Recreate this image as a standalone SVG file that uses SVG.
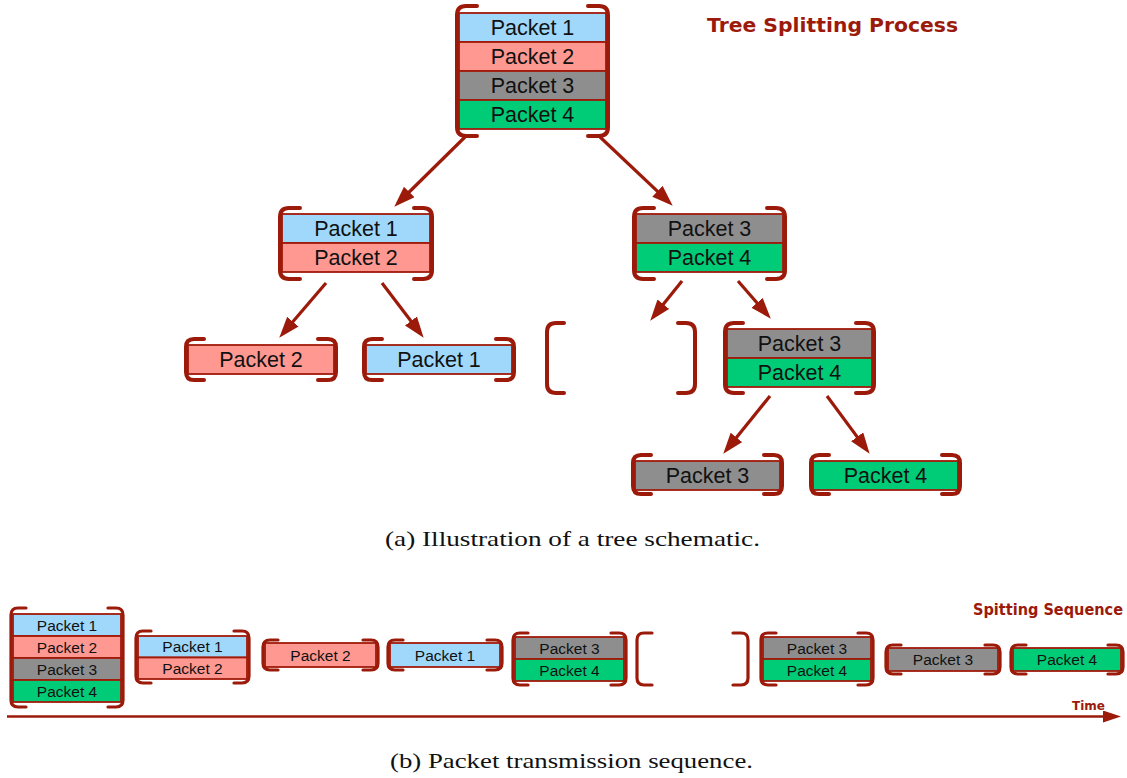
<svg xmlns="http://www.w3.org/2000/svg" width="1127" height="778" viewBox="0 0 1127 778">
  <style>
    .blue { fill: #9fd8fb; }
    .pink { fill: #ff9891; }
    .gray { fill: #8e8e8e; }
    .green { fill: #00cc78; }
    .cell { stroke: #a01a0a; stroke-width: 1.8; }
    .brk { fill: none; stroke: #9c1a0a; stroke-width: 4; stroke-linecap: round; stroke-linejoin: round; }
    .brk-s { fill: none; stroke: #9c1a0a; stroke-width: 3.2; stroke-linecap: round; stroke-linejoin: round; }
    .lbl { font-family: "Liberation Sans", Arial, sans-serif; font-size: 21.5px; fill: #111; text-anchor: middle; }
    .lbl-s { font-family: "Liberation Sans", Arial, sans-serif; font-size: 15.5px; fill: #111; text-anchor: middle; }
    .edge { stroke: #9c1a0a; stroke-width: 3.2; fill: none; marker-end: url(#head); }
    .hand { font-family: "DejaVu Sans", sans-serif; font-weight: bold; fill: #9c1a0a; }
    .cap { font-family: "Liberation Serif", "DejaVu Serif", serif; font-size: 21px; fill: #111; }
  </style>
  <defs>
    <marker id="head" markerUnits="userSpaceOnUse" markerWidth="22" markerHeight="16" refX="10" refY="7.5" orient="auto">
      <path d="M0,0 L21,7.5 L0,15 Z" fill="#9c1a0a"/>
    </marker>
    <marker id="timehead" markerUnits="userSpaceOnUse" markerWidth="20" markerHeight="14" refX="6" refY="6" orient="auto">
      <path d="M0,0 L18,6 L0,12 Z" fill="#9c1a0a"/>
    </marker>
  </defs>

  <rect width="1127" height="778" fill="#ffffff"/>

  <!-- (a) tree -->
  <text class="hand" x="707" y="32" font-size="20" textLength="251" lengthAdjust="spacingAndGlyphs">Tree Splitting Process</text>

  <g id="root">
    <rect class="blue cell" x="459" y="13" width="147" height="29"/>
    <rect class="pink cell" x="459" y="42" width="147" height="29"/>
    <rect class="gray cell" x="459" y="71" width="147" height="29"/>
    <rect class="green cell" x="459" y="100" width="147" height="29"/>
    <text class="lbl" x="532.5" y="35">Packet 1</text>
    <text class="lbl" x="532.5" y="64">Packet 2</text>
    <text class="lbl" x="532.5" y="93">Packet 3</text>
    <text class="lbl" x="532.5" y="122">Packet 4</text>
    <path class="brk" d="M477,6 H466 Q457,6 457,15 V127 Q457,136 466,136 H477 M588,6 H599 Q608,6 608,15 V127 Q608,136 599,136 H588"/>
  </g>

  <g id="n12">
    <rect class="blue cell" x="282" y="214" width="148" height="29"/>
    <rect class="pink cell" x="282" y="243" width="148" height="29"/>
    <text class="lbl" x="356" y="236">Packet 1</text>
    <text class="lbl" x="356" y="265">Packet 2</text>
    <path class="brk" d="M300,208 H289 Q280,208 280,217 V270 Q280,279 289,279 H300 M414,208 H423 Q432,208 432,217 V270 Q432,279 423,279 H414"/>
  </g>

  <g id="n34">
    <rect class="gray cell" x="636" y="214" width="147" height="29"/>
    <rect class="green cell" x="636" y="243" width="147" height="29"/>
    <text class="lbl" x="709.5" y="236">Packet 3</text>
    <text class="lbl" x="709.5" y="265">Packet 4</text>
    <path class="brk" d="M654,208 H643 Q634,208 634,217 V270 Q634,279 643,279 H654 M767,208 H776 Q785,208 785,217 V270 Q785,279 776,279 H767"/>
  </g>

  <g id="n2">
    <rect class="pink cell" x="188" y="345" width="146" height="29"/>
    <text class="lbl" x="261" y="367">Packet 2</text>
    <path class="brk" d="M204,339 H194 Q186,339 186,347 V372 Q186,380 194,380 H204 M318,339 H328 Q336,339 336,347 V372 Q336,380 328,380 H318"/>
  </g>

  <g id="n1">
    <rect class="blue cell" x="366" y="345" width="146" height="29"/>
    <text class="lbl" x="439" y="367">Packet 1</text>
    <path class="brk" d="M382,339 H372 Q364,339 364,347 V372 Q364,380 372,380 H382 M496,339 H506 Q514,339 514,347 V372 Q514,380 506,380 H496"/>
  </g>

  <g id="empty">
    <path class="brk" d="M564,323 H556 Q547,323 547,332 V384 Q547,393 556,393 H564 M678,323 H686 Q695,323 695,332 V384 Q695,393 686,393 H678"/>
  </g>

  <g id="n34b">
    <rect class="gray cell" x="727" y="329" width="145" height="29"/>
    <rect class="green cell" x="727" y="358" width="145" height="29"/>
    <text class="lbl" x="799.5" y="351">Packet 3</text>
    <text class="lbl" x="799.5" y="380">Packet 4</text>
    <path class="brk" d="M743,323 H734 Q725,323 725,332 V384 Q725,393 734,393 H743 M856,323 H865 Q874,323 874,332 V384 Q874,393 865,393 H856"/>
  </g>

  <g id="n3">
    <rect class="gray cell" x="635" y="461" width="145" height="29"/>
    <text class="lbl" x="707.5" y="483">Packet 3</text>
    <path class="brk" d="M651,455 H641 Q633,455 633,463 V486 Q633,494 641,494 H651 M764,455 H774 Q782,455 782,463 V486 Q782,494 774,494 H764"/>
  </g>

  <g id="n4">
    <rect class="green cell" x="813" y="461" width="145" height="29"/>
    <text class="lbl" x="885.5" y="483">Packet 4</text>
    <path class="brk" d="M829,455 H819 Q811,455 811,463 V486 Q811,494 819,494 H829 M942,455 H952 Q960,455 960,463 V486 Q960,494 952,494 H942"/>
  </g>

  <g id="connectors">
    <line class="edge" x1="465" y1="137" x2="402.1" y2="199.0"/>
    <line class="edge" x1="600" y1="137" x2="664.7" y2="198.1"/>
    <line class="edge" x1="326" y1="283" x2="286.4" y2="329.3"/>
    <line class="edge" x1="382" y1="283" x2="417.0" y2="329.0"/>
    <line class="edge" x1="682" y1="281" x2="657.1" y2="312.1"/>
    <line class="edge" x1="738" y1="281" x2="763.6" y2="310.4"/>
    <line class="edge" x1="770" y1="396" x2="730.2" y2="445.2"/>
    <line class="edge" x1="827" y1="396" x2="863.1" y2="444.9"/>
    <line x1="7" y1="716.5" x2="1109" y2="716.5" stroke="#9c1a0a" stroke-width="2.6" marker-end="url(#timehead)"/>
  </g>

  <text class="cap" x="385" y="546" textLength="375" lengthAdjust="spacingAndGlyphs">(a) Illustration of a tree schematic.</text>

  <!-- (b) transmission sequence -->
  <text class="hand" x="973" y="615" font-size="15" textLength="150" lengthAdjust="spacingAndGlyphs">Spitting Sequence</text>
  <text class="hand" x="1072" y="710" font-size="13" textLength="33" lengthAdjust="spacingAndGlyphs">Time</text>

  <g id="s1">
    <rect class="blue cell" x="13" y="614" width="108" height="22"/>
    <rect class="pink cell" x="13" y="636" width="108" height="22"/>
    <rect class="gray cell" x="13" y="658" width="108" height="22"/>
    <rect class="green cell" x="13" y="680" width="108" height="22"/>
    <text class="lbl-s" x="67" y="630.5">Packet 1</text>
    <text class="lbl-s" x="67" y="652.5">Packet 2</text>
    <text class="lbl-s" x="67" y="674.5">Packet 3</text>
    <text class="lbl-s" x="67" y="696.5">Packet 4</text>
    <path class="brk-s" d="M26,608 H18 Q11,608 11,615 V700 Q11,707 18,707 H26 M108,608 H116 Q123,608 123,615 V700 Q123,707 116,707 H108"/>
  </g>

  <g id="s2">
    <rect class="blue cell" x="138" y="636" width="109" height="21.5"/>
    <rect class="pink cell" x="138" y="657.5" width="109" height="21.5"/>
    <text class="lbl-s" x="192.5" y="652">Packet 1</text>
    <text class="lbl-s" x="192.5" y="673.5">Packet 2</text>
    <path class="brk-s" d="M151,631 H143 Q136,631 136,638 V676 Q136,683 143,683 H151 M234,631 H242 Q249,631 249,638 V676 Q249,683 242,683 H234"/>
  </g>

  <g id="s3">
    <rect class="pink cell" x="265" y="643" width="111" height="24"/>
    <text class="lbl-s" x="320.5" y="660.5">Packet 2</text>
    <path class="brk-s" d="M278,640 H270 Q263,640 263,647 V663 Q263,670 270,670 H278 M363,640 H371 Q378,640 378,647 V663 Q378,670 371,670 H363"/>
  </g>

  <g id="s4">
    <rect class="blue cell" x="390" y="643" width="110" height="24"/>
    <text class="lbl-s" x="445" y="660.5">Packet 1</text>
    <path class="brk-s" d="M403,640 H395 Q388,640 388,647 V663 Q388,670 395,670 H403 M487,640 H495 Q502,640 502,647 V663 Q502,670 495,670 H487"/>
  </g>

  <g id="s5">
    <rect class="gray cell" x="515" y="637" width="109" height="22"/>
    <rect class="green cell" x="515" y="659" width="109" height="22"/>
    <text class="lbl-s" x="569.5" y="653.5">Packet 3</text>
    <text class="lbl-s" x="569.5" y="675.5">Packet 4</text>
    <path class="brk-s" d="M528,633 H520 Q513,633 513,640 V678 Q513,685 520,685 H528 M611,633 H619 Q626,633 626,640 V678 Q626,685 619,685 H611"/>
  </g>

  <g id="s6">
    <path class="brk-s" d="M652,633 H644 Q637,633 637,640 V678 Q637,685 644,685 H652 M733,633 H741 Q748,633 748,640 V678 Q748,685 741,685 H733"/>
  </g>

  <g id="s7">
    <rect class="gray cell" x="763" y="637" width="108" height="22"/>
    <rect class="green cell" x="763" y="659" width="108" height="22"/>
    <text class="lbl-s" x="817" y="653.5">Packet 3</text>
    <text class="lbl-s" x="817" y="675.5">Packet 4</text>
    <path class="brk-s" d="M776,633 H768 Q761,633 761,640 V678 Q761,685 768,685 H776 M858,633 H866 Q873,633 873,640 V678 Q873,685 866,685 H858"/>
  </g>

  <g id="s8">
    <rect class="gray cell" x="888" y="648" width="110" height="23"/>
    <text class="lbl-s" x="943" y="665">Packet 3</text>
    <path class="brk-s" d="M901,645 H893 Q886,645 886,652 V667 Q886,674 893,674 H901 M985,645 H993 Q1000,645 1000,652 V667 Q1000,674 993,674 H985"/>
  </g>

  <g id="s9">
    <rect class="green cell" x="1013" y="648" width="108" height="23"/>
    <text class="lbl-s" x="1067" y="665">Packet 4</text>
    <path class="brk-s" d="M1026,645 H1018 Q1011,645 1011,652 V667 Q1011,674 1018,674 H1026 M1108,645 H1116 Q1123,645 1123,652 V667 Q1123,674 1116,674 H1108"/>
  </g>

  <text class="cap" x="390" y="768" textLength="363" lengthAdjust="spacingAndGlyphs">(b) Packet transmission sequence.</text>
</svg>
